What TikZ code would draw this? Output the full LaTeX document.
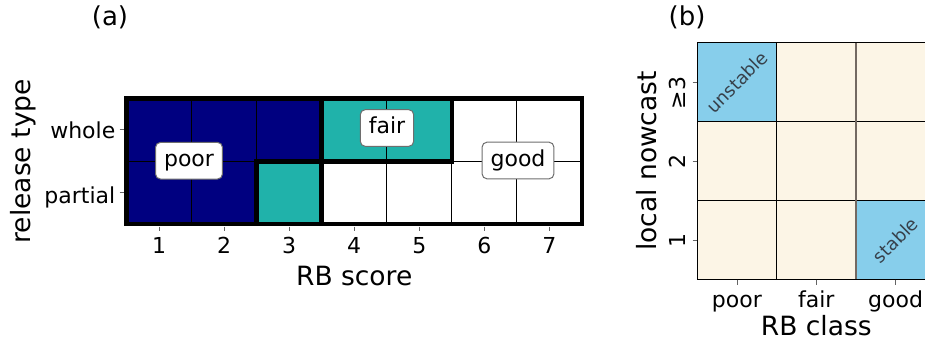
\documentclass[tikz,border=0pt]{standalone}
\usepackage{fontspec}
\setmainfont{DejaVu Sans}
\definecolor{navyc}{RGB}{0,0,128}
\definecolor{tealc}{RGB}{32,178,170}
\definecolor{skyc}{RGB}{135,206,235}
\definecolor{creamc}{RGB}{252,245,230}
\definecolor{diagtxt}{RGB}{55,65,75}
\definecolor{tickc}{RGB}{100,100,100}
\definecolor{boxc}{RGB}{110,110,110}
\definecolor{greyline}{RGB}{115,105,98}
\tikzset{
  thickb/.style={line width=4.5pt, line join=miter, black},
  thinb/.style={line width=1pt, black},
  tickmark/.style={line width=0.8pt, tickc},
  ticklab/.style={font=\fontsize{22}{26}\selectfont, inner sep=0pt},
  axlab/.style={font=\fontsize{26.5}{30}\selectfont, inner sep=0pt},
  panlab/.style={font=\fontsize{26}{30}\selectfont, inner sep=0pt},
  classbox/.style={font=\fontsize{22}{26}\selectfont, fill=white, draw=boxc, line width=1pt,
    rounded corners=5pt, inner xsep=8.5pt, inner ysep=7.4pt, text height=16.7pt, text depth=5.2pt},
  diaglab/.style={font=\fontsize{18}{22}\selectfont, text=diagtxt, rotate=45, inner sep=0pt},
  gridb/.style={line width=1.3pt, black},
}
\begin{document}
\begin{tikzpicture}[x=1pt,y=1pt]
\useasboundingbox (0,0) rectangle (925,-342);
\clip (0,0) rectangle (925,-342);
% ---------- panel (a) ----------
\node[panlab] (pa) at (110,-17.5) {(a)};
\fill[navyc] (126.5,-98.3) -- (321.71,-98.3) -- (321.71,-161.25) -- (256.64,-161.25) -- (256.64,-224.2) -- (126.5,-224.2) -- cycle;
\fill[tealc] (321.71,-98.3) rectangle (451.85,-161.25);
\fill[tealc] (256.64,-161.25) rectangle (321.71,-224.2);
\foreach \x in {191.57,256.64,321.71,386.78,451.85,516.92}
  \draw[thinb] (\x,-98.3) -- (\x,-224.2);
\draw[thinb] (126.5,-161.25) -- (582,-161.25);
% region outlines
\draw[thickb] (126.5,-98.3) -- (321.71,-98.3) -- (321.71,-161.25) -- (256.64,-161.25) -- (256.64,-224.2) -- (126.5,-224.2) -- cycle;
\draw[thickb] (321.71,-98.3) rectangle (451.85,-161.25);
\draw[thickb] (256.64,-161.25) rectangle (321.71,-224.2);
\draw[thickb] (126.5,-98.3) rectangle (582,-224.2);
% ticks
\foreach \x/\l in {159.03/1,224.1/2,289.17/3,354.24/4,419.31/5,484.38/6,549.45/7}{
  \draw[tickmark] (\x,-226.5) -- (\x,-231);
  \node[ticklab, anchor=base] (xa\l) at (\x,-253) {\l};
}
\draw[tickmark] (119.5,-129.8) -- (124,-129.8);
\draw[tickmark] (119.5,-192.7) -- (124,-192.7);
\node[ticklab, anchor=base east] (ywhole) at (115.5,-138) {whole};
\node[ticklab, anchor=base east] (ypartial) at (115.5,-203) {partial};
\node[axlab, anchor=base] (xlaba) at (354.2,-285) {RB score};
\node[axlab, anchor=base, rotate=90] (ylaba) at (30,-161.25) {release type};
% class labels
\node[classbox] (poor) at (189,-160.7) {poor};
\node[classbox] (fair) at (387,-128) {fair};
\node[classbox] (good) at (518,-160.5) {good};
% ---------- panel (b) ----------
\node[panlab] (pb) at (687,-17.5) {(b)};
\fill[creamc] (697.3,-42.5) rectangle (935.2,-279.5);
\fill[skyc] (697.3,-42.5) rectangle (776.6,-121.5);
\fill[skyc] (855.9,-200.5) rectangle (935.2,-279.5);
\draw[gridb] (697.3,-121.5) -- (935.2,-121.5);
\draw[gridb] (697.3,-200.5) -- (935.2,-200.5);
\draw[gridb] (776.6,-42.5) -- (776.6,-279.5);
\draw[gridb, draw=greyline] (855.9,-42.5) -- (855.9,-279.5);
\draw[gridb] (697.3,-42.5) rectangle (935.2,-279.5);
\node[diaglab] (unst) at (737,-82) {unstable};
\node[diaglab] (stab) at (895.6,-240) {stable};
\foreach \y in {82,161,240}
  \draw[tickmark] (692.5,-\y) -- (697.3,-\y);
\foreach \x in {736.95,816.25,895.55}
  \draw[tickmark] (\x,-279.5) -- (\x,-284.5);
\node[ticklab, anchor=base, rotate=90] (y3) at (685,-93) {≥3};
\node[ticklab, anchor=base, rotate=90] (y2) at (685,-162) {2};
\node[ticklab, anchor=base, rotate=90] (y1) at (685,-240.5) {1};
\node[ticklab, anchor=base] (xpoor) at (736.95,-307) {poor};
\node[ticklab, anchor=base] (xfair) at (816.25,-307) {fair};
\node[ticklab, anchor=base] (xgood) at (895.55,-307) {good};
\node[axlab, anchor=base] (xlabb) at (816.25,-335) {RB class};
\node[axlab, anchor=base, rotate=90] (ylabb) at (656,-161) {local nowcast};
\end{tikzpicture}
\end{document}
